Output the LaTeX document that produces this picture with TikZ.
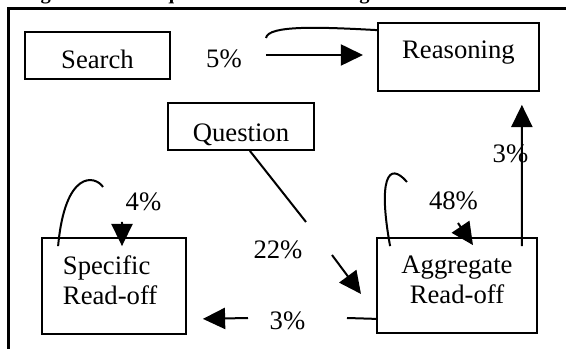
\documentclass[tikz,border=0pt]{standalone}
\usepackage{fontspec}
\setmainfont{Liberation Serif}
\usetikzlibrary{arrows.meta}

\begin{document}
\begin{tikzpicture}[x=0.45pt,y=-0.45pt,>={Triangle[length=10pt,width=9.5pt]},font=\fontsize{12}{13.5}\selectfont]
	\tikzstyle{block} = [draw, rectangle, line width=0.8pt, inner ysep=0pt]
	\tikzstyle{conn} = [line width=0.9pt]
	\tikzstyle{pct} = [anchor=base, inner sep=0pt]

	\useasboundingbox (0,0) rectangle (566,349);
	\clip (0,0) rectangle (566,349);

	\node [anchor=base west, inner sep=0pt, font=\fontsize{9.2}{11}\selectfont\bfseries] (caption) at (22,0) {Figure 3: Local question transition diagram.};

	\draw [line width=1.3pt] (8.5,349) -- (8.5,8.5) -- (566,8.5);

	\node [block, minimum width=65.25pt, text height=16.65pt, text depth=4.5pt] (search) at (97.5,55.5) {Search};

	\node [block, minimum width=72.45pt, text height=16.2pt, text depth=14.4pt] (reason) at (458.5,57) {Reasoning};

	\node [block, minimum width=65.7pt, text height=17.55pt, text depth=3.6pt] (quest) at (241,126.5) {Question};

	\node [block, align=left, text width=45.9pt, inner xsep=9.45pt, text height=16.65pt, text depth=26.55pt] (spec) at (114,286) {Specific\\Read-off};

	\node [block, align=center, minimum width=72pt, text height=29.7pt, text depth=13.05pt] (aggr) at (457,285.5) {Aggregate\\Read-off};

	\coordinate (loopend) at (266,38);
	\coordinate (arrbeg) at (266,55);
	\coordinate (arrend) at (363,55);
	\coordinate (qend) at (306,222);
	\coordinate (abeg) at (332,255);
	\coordinate (aend) at (361,294);
	\coordinate (sloop) at (103,187);
	\coordinate (sarr) at (122,222);
	\coordinate (aloop) at (407,182);
	\coordinate (aarr) at (458,223);
	\coordinate (bline) at (347,318);
	\coordinate (bbeg) at (248,318);

	\draw [conn] ([yshift=-3.6pt]reason.north west) .. controls (320,27) and (268,25) .. (loopend);

	\draw [conn, ->] (arrbeg) -- (arrend);

	\draw [conn] ([xshift=4pt]quest.south) -- (qend);

	\draw [conn, ->] (abeg) -- (aend);

	\draw [conn] ([xshift=7.65pt,yshift=-4.05pt]spec.north west) .. controls (65,170) and (95,175) .. (sloop);

	\draw [conn, ->] (sarr) -- ([xshift=3.6pt,yshift=-4.05pt]spec.north);

	\draw [conn] ([xshift=6.3pt,yshift=-4.05pt]aggr.north west) .. controls (378,180) and (388,160) .. (aloop);

	\draw [conn, ->] (aarr) -- ([xshift=7.2pt,yshift=-3.6pt]aggr.north);

	\draw [conn, ->] ([xshift=-7.2pt,yshift=-4.05pt]aggr.north east) -- ([xshift=-8.1pt,yshift=-5.85pt]reason.south east);

	\draw [conn] ([yshift=6.75pt]aggr.south west) -- (bline);

	\draw [conn, ->] (bbeg) -- ([xshift=7.2pt,yshift=7.2pt]spec.south east);

	\node [pct] (p5) at (224,68) {5\%};

	\node [pct] (p22) at (278,259) {22\%};

	\node [pct] (p4) at (143.5,211) {4\%};

	\node [pct] (p48) at (453.5,210) {48\%};

	\node [pct] (p3up) at (510.5,163) {3\%};

	\node [pct] (p3low) at (287.5,330) {3\%};

\end{tikzpicture}
\end{document}
